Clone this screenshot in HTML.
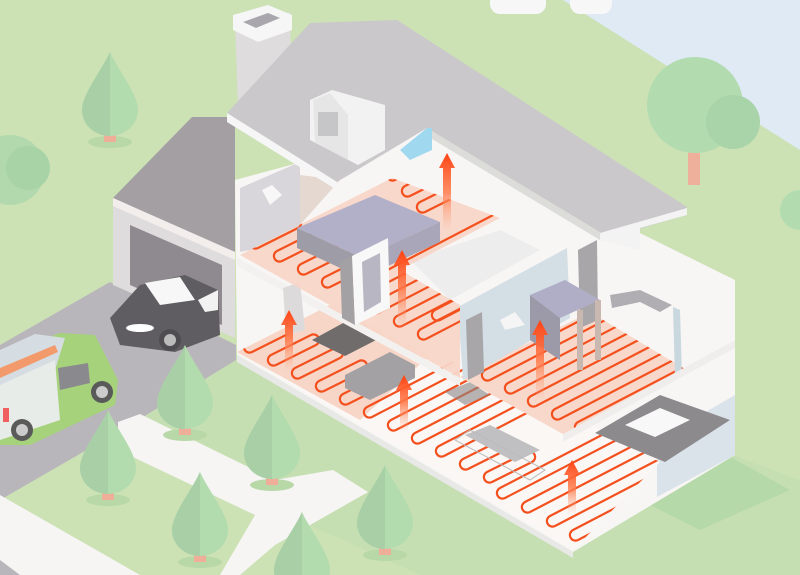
<!DOCTYPE html>
<html><head><meta charset="utf-8"><style>html,body{margin:0;padding:0;width:800px;height:575px;overflow:hidden;background:#cce2b5}svg{display:block}</style></head>
<body>
<svg width="800" height="575" viewBox="0 0 800 575" xmlns="http://www.w3.org/2000/svg">
<defs>
<linearGradient id="ag" x1="0" y1="0" x2="0" y2="1"><stop offset="0" stop-color="#ff4414"/><stop offset="0.5" stop-color="#ff7a4a" stop-opacity="0.85"/><stop offset="1" stop-color="#ffb090" stop-opacity="0"/></linearGradient>
<path id="u" d="M0,0 L150,-78 A5,5 0 0 0 145,-88 L-5,-10 A5,5 0 0 0 0,0" fill="none" stroke="#f4501e" stroke-width="2.2"/>
<path id="s" d="M0,0 L40,-20 A5,5 0 0 0 35,-30 L-5,-10 A5,5 0 0 0 0,0" fill="none" stroke="#f4501e" stroke-width="2.2"/>
<g id="tree"><ellipse cx="0" cy="90" rx="22" ry="6" fill="#b8d8a8"/><rect x="-6" y="78" width="12" height="12" fill="#eeae98"/><path d="M0,0 C8,18 28,42 28,58 A28,26 0 0 1 -28,58 C-28,42 -8,18 0,0Z" fill="#b2dbae"/><path d="M0,0 C-8,18 -28,42 -28,58 A28,26 0 0 0 0,84Z" fill="#a8cfa6"/></g>
<clipPath id="cg"><polygon points="237,352 330,305 600,430 660,462 573,550"/></clipPath>
<clipPath id="cm"><polygon points="460,377 590,312 690,372 563,434"/></clipPath>
<clipPath id="ca"><polygon points="240,255 392,178 500,218 400,270 460,305 460,378"/></clipPath>
</defs>
<polygon points="563,0 800,0 800,150" fill="#dfeaf5"/>
<rect x="490" y="-10" width="56" height="24" rx="10" fill="#f7f7f7"/>
<rect x="570" y="-10" width="42" height="24" rx="10" fill="#f7f7f7"/>
<polygon points="100,430 330,305 800,480 800,575 420,575" fill="#bfdcb0" opacity="0.4"/>
<polygon points="600,480 700,440 790,490 700,530" fill="#b6d9a9"/>
<polygon points="0,345 110,282 236,345 236,360 130,425 0,500" fill="#b9b6bb"/>
<polygon points="0,495 0,575 140,575" fill="#f6f5f4"/>
<polygon points="0,560 20,575 0,575" fill="#b9b6bb"/>
<polygon points="118,422 140,414 275,480 333,470 368,492 270,545 255,540 255,515 118,450" fill="#f6f5f4"/>
<polygon points="255,515 345,480 368,492 275,545 240,575 220,575" fill="#f6f5f4"/>
<use href="#tree" transform="translate(110,52)"/>
<circle cx="10" cy="170" r="35" fill="#b2d9ae"/><circle cx="28" cy="168" r="22" fill="#a8d3a6"/>
<rect x="688" y="140" width="12" height="45" fill="#eeb09a"/>
<circle cx="695" cy="105" r="48" fill="#b2dcb0"/><circle cx="733" cy="122" r="27" fill="#a9d3a8"/>
<circle cx="800" cy="210" r="20" fill="#b2dcb0"/>
<polygon points="113,198 192,117 235,117 235,255" fill="#a49fa3"/>
<polygon points="113,198 235,252 235,338 113,285" fill="#dedcdc"/>
<polygon points="113,198 235,252 235,260 113,206" fill="#f3eeec"/>
<polygon points="130,225 222,265 222,325 130,285" fill="#8e8a90"/>
<path d="M110,318 L140,285 L185,275 L218,290 L220,335 L175,352 L120,345 Z" fill="#5f5d61"/>
<polygon points="145,283 180,277 195,300 160,305" fill="#f7f7f7"/>
<polygon points="198,300 218,290 218,310 205,312" fill="#f2f2f2"/>
<circle cx="170" cy="340" r="11" fill="#4e4c50"/><circle cx="170" cy="340" r="6" fill="#bbb"/>
<ellipse cx="140" cy="328" rx="14" ry="4" fill="#fff"/>
<polygon points="0,355 60,333 95,335 118,380 115,405 30,445 0,445" fill="#a6d27c"/>
<polygon points="0,350 35,334 65,338 55,370 0,385" fill="#d5dde2"/>
<polygon points="0,368 55,345 58,352 0,378" fill="#f39a6c"/>
<polygon points="0,385 55,360 60,420 0,440" fill="#e8ece8"/>
<polygon points="58,368 88,363 90,383 60,390" fill="#8a8a8e"/>
<circle cx="102" cy="392" r="11" fill="#5a5a5a"/><circle cx="102" cy="392" r="6" fill="#ccc"/>
<circle cx="22" cy="430" r="11" fill="#5a5a5a"/><circle cx="22" cy="430" r="6" fill="#ccc"/>
<rect x="3" y="408" width="6" height="14" fill="#f06060"/>
<polygon points="235,180 427,128 735,280 735,455 573,552 237,355" fill="#f8f6f5"/>
<polygon points="657,440 735,395 735,455 657,497" fill="#dbe3ea"/>
<polygon points="237,355 573,552 573,558 237,362" fill="#e8e8e6"/>
<polygon points="240,188 300,162 300,240 240,252" fill="#d8d6da"/>
<polygon points="300,175 340,180 300,225" fill="#d7c4b8" opacity="0.6"/>
<polygon points="237,352 330,305 600,430 660,462 573,550" fill="#faf7f5"/>
<polygon points="237,352 330,305 430,355 360,420" fill="#f7d6c8"/>
<g clip-path="url(#cg)">
<use href="#s" transform="translate(252,352)"/><use href="#s" transform="translate(276,365)"/><use href="#s" transform="translate(300,378)"/><use href="#s" transform="translate(324,391)"/><use href="#s" transform="translate(348,404)"/>
<use href="#u" transform="translate(372,417)"/><use href="#u" transform="translate(396,430)"/><use href="#u" transform="translate(420,443)"/><use href="#u" transform="translate(444,456)"/>
<use href="#s" transform="translate(468,469)"/><use href="#s" transform="translate(492,482)"/>
<use href="#u" transform="translate(505,498)"/><use href="#u" transform="translate(530,512)"/><use href="#u" transform="translate(555,526)"/><use href="#u" transform="translate(578,540)"/>
</g>
<polygon points="312,340 345,322 380,338 345,356" fill="#706c6c"/>
<polygon points="345,375 390,352 415,365 415,378 370,400 345,388" fill="#a3a1a3"/>
<polygon points="445,392 470,382 490,395 465,405" fill="#8a8686" opacity="0.6"/>
<polygon points="465,435 490,425 540,450 515,462" fill="#c0bfc2"/>
<polygon points="455,440 470,430 545,470 530,480" fill="none" stroke="#bbb"/>
<polygon points="595,433 660,395 730,420 665,462" fill="#8c8a8c"/>
<polygon points="625,425 660,408 690,420 655,437" fill="#f8f8f8"/>
<polygon points="460,377 590,312 690,372 563,434" fill="#f8d8ca"/>
<g clip-path="url(#cm)">
<use href="#u" transform="translate(490,380)"/><use href="#u" transform="translate(513,393)"/><use href="#u" transform="translate(536,406)"/><use href="#u" transform="translate(560,419)"/><use href="#u" transform="translate(583,432)"/>
</g>
<polygon points="458,307 567,248 570,318 463,380" fill="#d3dee5"/>
<polygon points="673,307 680,310 682,377 675,380" fill="#c9d7df"/>
<polygon points="466,320 482,312 484,372 468,380" fill="#a8a6a8"/>
<polygon points="578,250 597,240 598,320 580,328" fill="#a8a6a8"/>
<polygon points="530,295 565,280 600,300 560,318" fill="#b0aec6"/>
<polygon points="530,295 560,318 560,360 530,340" fill="#9c9aa8"/>
<rect x="595" y="300" width="6" height="60" fill="#c8b8b0"/>
<rect x="577" y="310" width="6" height="60" fill="#c8b8b0"/>
<polygon points="500,320 515,312 525,325 505,330" fill="#f5f5f5"/>
<polygon points="610,295 640,290 672,305 660,312 640,302 612,308" fill="#b0aeb2"/>
<polygon points="237,258 460,378 460,386 237,266" fill="#f3f1f0"/>
<polygon points="563,434 735,340 735,348 563,442" fill="#f0eeed"/>
<polygon points="283,288 300,282 305,330 286,335" fill="#dcdada"/>
<polygon points="410,260 500,230 540,250 450,300" fill="#eeeded"/>
<g>
<polygon points="240,255 392,178 500,218 400,270 460,305 460,378" fill="#f8d6c8" opacity="0.95"/>
<g clip-path="url(#ca)">
<use href="#s" transform="translate(258,248)"/><use href="#s" transform="translate(282,261)"/><use href="#s" transform="translate(306,274)"/><use href="#s" transform="translate(330,287)"/>
<use href="#u" transform="translate(354,300)"/><use href="#u" transform="translate(378,313)"/><use href="#u" transform="translate(402,326)"/><use href="#u" transform="translate(426,339)"/><use href="#u" transform="translate(440,320)"/>
<use href="#s" transform="translate(395,180)"/><use href="#s" transform="translate(410,196)"/><use href="#s" transform="translate(425,212)"/>
</g>
<polygon points="297,228 375,195 440,222 362,258" fill="#b2b0c8"/>
<polygon points="297,228 362,258 362,278 297,248" fill="#9e9ca6"/>
<polygon points="362,258 440,222 440,242 362,278" fill="#a8a6b8"/>
<polygon points="262,190 272,185 282,195 270,205" fill="#f7f7f7"/>
<polygon points="340,262 352,256 355,325 342,318" fill="#a3a1a4"/>
<polygon points="352,256 388,238 390,308 355,325" fill="#f8f8f8"/>
<polygon points="362,262 380,253 381,302 364,312" fill="#b8b6c2"/>
</g>
<polygon points="235,20 290,12 292,100 238,108" fill="#dedcdc"/>
<polygon points="233,15 268,5 292,15 292,30 258,42 233,30" fill="#f6f6f6"/>
<polygon points="243,22 268,13 280,18 256,28" fill="#a9a7ad"/>
<polygon points="227,113 310,23 397,20 687,207 687,215 600,240 427,128 337,182" fill="#cac8ca"/>
<polygon points="227,113 337,182 337,190 227,122" fill="#f6f6f6"/>
<polygon points="600,233 687,208 687,215 640,228 640,250 600,240" fill="#f3f3f3"/>
<polygon points="427,128 600,232 600,240 427,136" fill="#dcdcd8"/>
<polygon points="427,128 432,128 432,150 410,160 400,150" fill="#a0d8f0"/>
<polygon points="310,100 332,90 385,105 385,150 358,165 310,140" fill="#f2f2f2"/>
<polygon points="313,100 330,93 348,115 348,160 315,142" fill="#e6e6e6"/>
<rect x="318" y="112" width="20" height="24" fill="#c6c6c8"/>
<g fill="url(#ag)">
<polygon points="447,153 455,168 451,168 451,232 443,232 443,168 439,168"/>
<polygon points="402,250 410,265 406,265 406,330 398,330 398,265 394,265"/>
<polygon points="289,310 297,325 293,325 293,372 285,372 285,325 281,325"/>
<polygon points="404,375 412,390 408,390 408,432 400,432 400,390 396,390"/>
<polygon points="540,320 548,335 544,335 544,402 536,402 536,335 532,335"/>
<polygon points="572,460 580,475 576,475 576,515 568,515 568,475 564,475"/>
</g>
<use href="#tree" transform="translate(185,345)"/>
<use href="#tree" transform="translate(272,395)"/>
<use href="#tree" transform="translate(108,410)"/>
<use href="#tree" transform="translate(200,472)"/>
<use href="#tree" transform="translate(385,465)"/>
<use href="#tree" transform="translate(302,512)"/>
</svg>
</body></html>
